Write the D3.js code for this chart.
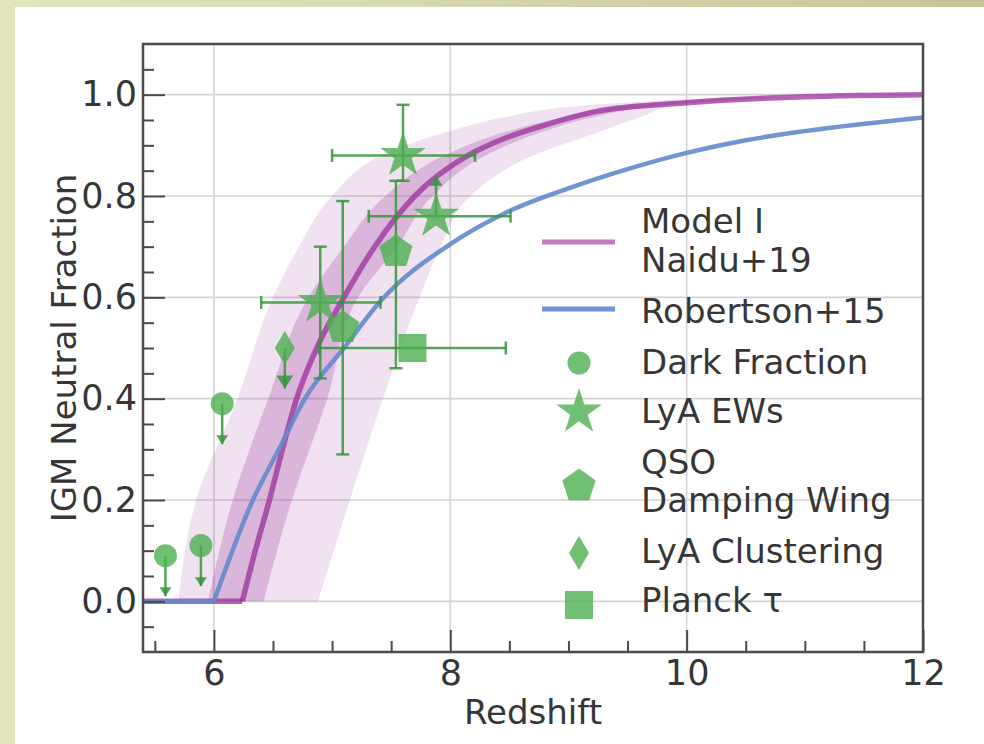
<!DOCTYPE html>
<html>
<head>
<meta charset="UTF-8">
<script src="https://d3js.org/d3.v7.min.js"></script>
<style>
  body { margin: 0; background: #fff; }
  svg text { font-family: "DejaVu Sans", sans-serif; fill: #363636; }
</style>
</head>
<body>
<div id="chart"></div>
<script>

// model curves: neutral fraction vs redshift
var naiduZ = [5.4, 6.24, 6.35, 6.47, 6.58, 6.70, 6.87, 7.10, 7.36, 7.70, 8.15, 8.42, 8.80, 9.24, 10.0, 11.0, 12.0];
var naiduX = [0, 0, 0.10, 0.20, 0.30, 0.40, 0.50, 0.60, 0.70, 0.80, 0.88, 0.91, 0.94, 0.967, 0.984, 0.996, 1.0];
var robZ = [5.4, 6.0, 6.33, 6.55, 6.77, 7.10, 7.42, 8.0, 8.47, 9.0, 9.5, 10.0, 10.5, 11.0, 12.0];
var robX = [0, 0, 0.20, 0.30, 0.40, 0.50, 0.595, 0.705, 0.767, 0.815, 0.853, 0.885, 0.91, 0.928, 0.955];

// uncertainty bands of Model I: redshift range at each neutral fraction level
var bandLevels = [0, 0.2, 0.4, 0.6, 0.7, 0.8, 0.88, 0.93, 0.955, 0.98, 0.995];
var outerLo = [5.70, 5.85, 6.20, 6.50, 6.72, 7.00, 7.42, 8.02, 8.45, 9.20, 10.3];
var outerHi = [6.88, 7.15, 7.43, 7.74, 7.92, 8.17, 8.70, 9.30, 9.60, 9.95, 10.9];
var innerLo = [5.95, 6.16, 6.46, 6.80, 7.10, 7.45, 7.95, 8.52, 8.95, 9.55, 10.5];
var innerHi = [6.42, 6.66, 6.96, 7.22, 7.55, 7.85, 8.30, 8.82, 9.20, 9.85, 10.8];

// measurements
var darkFraction = [
  {z: 5.59, x: 0.09, lim: "upper"},
  {z: 5.89, x: 0.11, lim: "upper"},
  {z: 6.07, x: 0.39, lim: "upper"}
];
var lyaEWs = [
  {z: 6.90, x: 0.59, zlo: 6.40, zhi: 7.41, xlo: 0.44, xhi: 0.70},
  {z: 7.60, x: 0.88, zlo: 7.00, zhi: 8.21, xlo: 0.83, xhi: 0.98},
  {z: 7.88, x: 0.76, zlo: 7.31, zhi: 8.51, lim: "lower"}
];
var qsoDamping = [
  {z: 7.09, x: 0.54, xlo: 0.29, xhi: 0.79},
  {z: 7.54, x: 0.69, xlo: 0.46, xhi: 0.83}
];
var lyaClustering = [
  {z: 6.60, x: 0.50, lim: "upper"}
];
var planckTau = [
  {z: 7.68, x: 0.50, zlo: 6.89, zhi: 8.47}
];

var xMajor = [6, 8, 10, 12];
var yMajor = [0, 0.2, 0.4, 0.6, 0.8, 1.0];

var W = 984, H = 744;
var m = {left: 143, top: 44, right: 923, bottom: 652};
var green = "rgba(76,175,80,0.8)";
var barGreen = "rgba(52,150,56,0.85)";

var svg = d3.select("#chart").append("svg")
  .attr("width", W).attr("height", H);

// slide background
var grad = svg.append("defs").append("linearGradient").attr("id", "bg");
grad.append("stop").attr("offset", "0%").attr("stop-color", "#e3e6bd");
grad.append("stop").attr("offset", "100%").attr("stop-color", "#c5c59c");
svg.append("rect").attr("width", W).attr("height", H).attr("fill", "url(#bg)");
svg.append("rect").attr("x", 15).attr("y", 7).attr("width", W - 15).attr("height", H - 7).attr("fill", "#fff");

svg.select("defs").append("clipPath").attr("id", "plot")
  .append("rect").attr("x", m.left).attr("y", m.top)
  .attr("width", m.right - m.left).attr("height", m.bottom - m.top);

var x = d3.scaleLinear().domain([5.4, 12]).range([m.left, m.right]);
var y = d3.scaleLinear().domain([-0.1, 1.1]).range([m.bottom, m.top]);

// grid
var grid = svg.append("g").attr("stroke", "#d4d4d4").attr("stroke-width", 1.6);
grid.selectAll(".gx").data(xMajor.filter(function(v){ return v < 12; })).enter().append("line")
  .attr("x1", function(d){ return x(d); }).attr("x2", function(d){ return x(d); })
  .attr("y1", m.top).attr("y2", m.bottom);
grid.selectAll(".gy").data(yMajor).enter().append("line")
  .attr("y1", function(d){ return y(d); }).attr("y2", function(d){ return y(d); })
  .attr("x1", m.left).attr("x2", m.right);

var plot = svg.append("g").attr("clip-path", "url(#plot)");

// bands
var band = function(lo, hi){
  return d3.area()
    .y(function(d, i){ return y(bandLevels[i]); })
    .x0(function(d, i){ return x(lo[i]); })
    .x1(function(d, i){ return x(hi[i]); })
    .curve(d3.curveMonotoneY)(bandLevels);
};
plot.append("path").attr("d", band(outerLo, outerHi)).attr("fill", "rgba(150,50,150,0.14)");
plot.append("path").attr("d", band(innerLo, innerHi)).attr("fill", "rgba(150,50,150,0.25)");

// model lines (flat part and rising part drawn separately to keep the kink)
var drawCurve = function(zs, xs, color, width){
  var pts = zs.map(function(z, i){ return [z, xs[i]]; });
  var k = pts.findIndex(function(p){ return p[1] > 0; }) - 1;
  var line = d3.line().x(function(p){ return x(p[0]); }).y(function(p){ return y(p[1]); });
  plot.append("path").attr("d", line(pts.slice(0, k + 1)))
    .attr("fill", "none").attr("stroke", color).attr("stroke-width", width);
  plot.append("path").attr("d", line.curve(d3.curveMonotoneX)(pts.slice(k)))
    .attr("fill", "none").attr("stroke", color).attr("stroke-width", width);
};
drawCurve(naiduZ, naiduX, "rgba(152,42,154,0.72)", 5.5);
drawCurve(robZ, robX, "rgba(98,138,204,0.9)", 4.5);

// marker shapes
var starPath = function(R){
  var p = [];
  for (var i = 0; i < 10; i++) {
    var r = i % 2 ? R * 0.382 : R;
    var a = -Math.PI / 2 + i * Math.PI / 5;
    p.push([r * Math.cos(a), r * Math.sin(a)]);
  }
  return "M" + p.join("L") + "Z";
};
var pentPath = function(R){
  var p = [];
  for (var i = 0; i < 5; i++) {
    var a = -Math.PI / 2 + i * 2 * Math.PI / 5;
    p.push([R * Math.cos(a), R * Math.sin(a)]);
  }
  return "M" + p.join("L") + "Z";
};
var diamondPath = function(w, h){
  return "M0," + (-h) + "L" + w + ",0L0," + h + "L" + (-w) + ",0Z";
};
var shapes = {
  circle: d3.symbol(d3.symbolCircle, Math.PI * 11.5 * 11.5)(),
  star: starPath(24),
  pentagon: pentPath(17.5),
  diamond: diamondPath(10, 17),
  square: "M-14,-14H14V14H-14Z"
};

// error bars and limit arrows
var bars = svg.append("g").attr("stroke", barGreen).attr("stroke-width", 2.5).attr("fill", "none");
var cap = 6.5, arrowLen = 0.08;
var drawBars = function(data, head){
  data.forEach(function(d){
    var px = x(d.z), py = y(d.x);
    if (d.zlo != null) {
      bars.append("line").attr("x1", x(d.zlo)).attr("x2", x(d.zhi)).attr("y1", py).attr("y2", py);
      [d.zlo, d.zhi].forEach(function(v){
        bars.append("line").attr("x1", x(v)).attr("x2", x(v)).attr("y1", py - cap).attr("y2", py + cap);
      });
    }
    if (d.xlo != null) {
      bars.append("line").attr("x1", px).attr("x2", px).attr("y1", y(d.xlo)).attr("y2", y(d.xhi));
      [d.xlo, d.xhi].forEach(function(v){
        bars.append("line").attr("x1", px - cap).attr("x2", px + cap).attr("y1", y(v)).attr("y2", y(v));
      });
    }
    if (d.lim) {
      var s = d.lim == "upper" ? -1 : 1;
      var ty = y(d.x + s * arrowLen);
      bars.append("line").attr("x1", px).attr("x2", px).attr("y1", py).attr("y2", ty);
      bars.append("path")
        .attr("d", "M" + px + "," + ty + "L" + (px - head[0]) + "," + (ty + s * head[1]) +
                   "L" + (px + head[0]) + "," + (ty + s * head[1]) + "Z")
        .attr("fill", barGreen).attr("stroke", "none");
    }
  });
};
drawBars(darkFraction, [6, 9]);
drawBars(lyaEWs, [6.5, 10]);
drawBars(qsoDamping, [6, 9]);
drawBars(lyaClustering, [8.5, 13]);
drawBars(planckTau, [6, 9]);

var marks = svg.append("g").attr("fill", green);
var drawMarks = function(data, shape){
  marks.selectAll(null).data(data).enter().append("path")
    .attr("d", shapes[shape])
    .attr("transform", function(d){ return "translate(" + x(d.z) + "," + y(d.x) + ")"; });
};
drawMarks(darkFraction, "circle");
drawMarks(lyaEWs, "star");
drawMarks(qsoDamping, "pentagon");
drawMarks(lyaClustering, "diamond");
drawMarks(planckTau, "square");

// axes, ticks pointing inward
var fs = "35px";
var xAxis = svg.append("g").attr("transform", "translate(0," + m.bottom + ")")
  .call(d3.axisBottom(x).tickValues(xMajor).tickSizeInner(-22).tickSizeOuter(0).tickPadding(8).tickFormat(d3.format("d")));
var xMinor = svg.append("g").attr("transform", "translate(0," + m.bottom + ")")
  .call(d3.axisBottom(x).tickValues(d3.range(5.5, 12, 0.5).filter(function(v){ return xMajor.indexOf(v) < 0; }))
    .tickSizeInner(-11).tickSizeOuter(0).tickFormat(""));
var yAxis = svg.append("g").attr("transform", "translate(" + m.left + ",0)")
  .call(d3.axisLeft(y).tickValues(yMajor).tickSizeInner(-22).tickSizeOuter(0).tickPadding(6).tickFormat(d3.format(".1f")));
var yMinor = svg.append("g").attr("transform", "translate(" + m.left + ",0)")
  .call(d3.axisLeft(y).tickValues(d3.range(-0.05, 1.09, 0.05).filter(function(v){ return Math.round(v * 100) % 20 != 0; }))
    .tickSizeInner(-11).tickSizeOuter(0).tickFormat(""));
[xAxis, xMinor, yAxis, yMinor].forEach(function(g){
  g.select(".domain").remove();
  g.selectAll("line").attr("stroke", "#4a4a4a").attr("stroke-width", 2);
  g.selectAll("text").style("font-size", fs).style("fill", "#363636");
});

svg.append("rect").attr("x", m.left).attr("y", m.top)
  .attr("width", m.right - m.left).attr("height", m.bottom - m.top)
  .attr("fill", "none").attr("stroke", "#4a4a4a").attr("stroke-width", 2.5);

svg.append("text").attr("x", (m.left + m.right) / 2).attr("y", 724)
  .attr("text-anchor", "middle").style("font-size", "34px").text("Redshift");
svg.append("text").attr("transform", "translate(76," + (m.top + m.bottom) / 2 + ") rotate(-90)")
  .attr("text-anchor", "middle").style("font-size", "34px").text("IGM Neutral Fraction");

// legend
var lg = svg.append("g").style("font-size", "34px");
var lgx = 641, hx = 579;
lg.append("line").attr("x1", 542).attr("x2", 615).attr("y1", 242).attr("y2", 242)
  .attr("stroke", "rgba(152,42,154,0.6)").attr("stroke-width", 5);
lg.append("line").attr("x1", 542).attr("x2", 615).attr("y1", 309).attr("y2", 309)
  .attr("stroke", "rgba(98,138,204,0.9)").attr("stroke-width", 5);
var lgMarks = [["circle", 363], ["star", 412], ["pentagon", 486], ["diamond", 553], ["square", 605]];
lgMarks.forEach(function(d){
  lg.append("path").attr("d", shapes[d[0]]).attr("fill", green)
    .attr("transform", "translate(" + hx + "," + d[1] + ")");
});
var lgText = [["Model I", 233], ["Naidu+19", 272], ["Robertson+15", 323], ["Dark Fraction", 374],
  ["LyA EWs", 423], ["QSO", 474], ["Damping Wing", 512], ["LyA Clustering", 563], ["Planck \u03c4", 612]];
lgText.forEach(function(d){
  lg.append("text").attr("x", lgx).attr("y", d[1]).text(d[0]);
});

</script>
</body>
</html>
